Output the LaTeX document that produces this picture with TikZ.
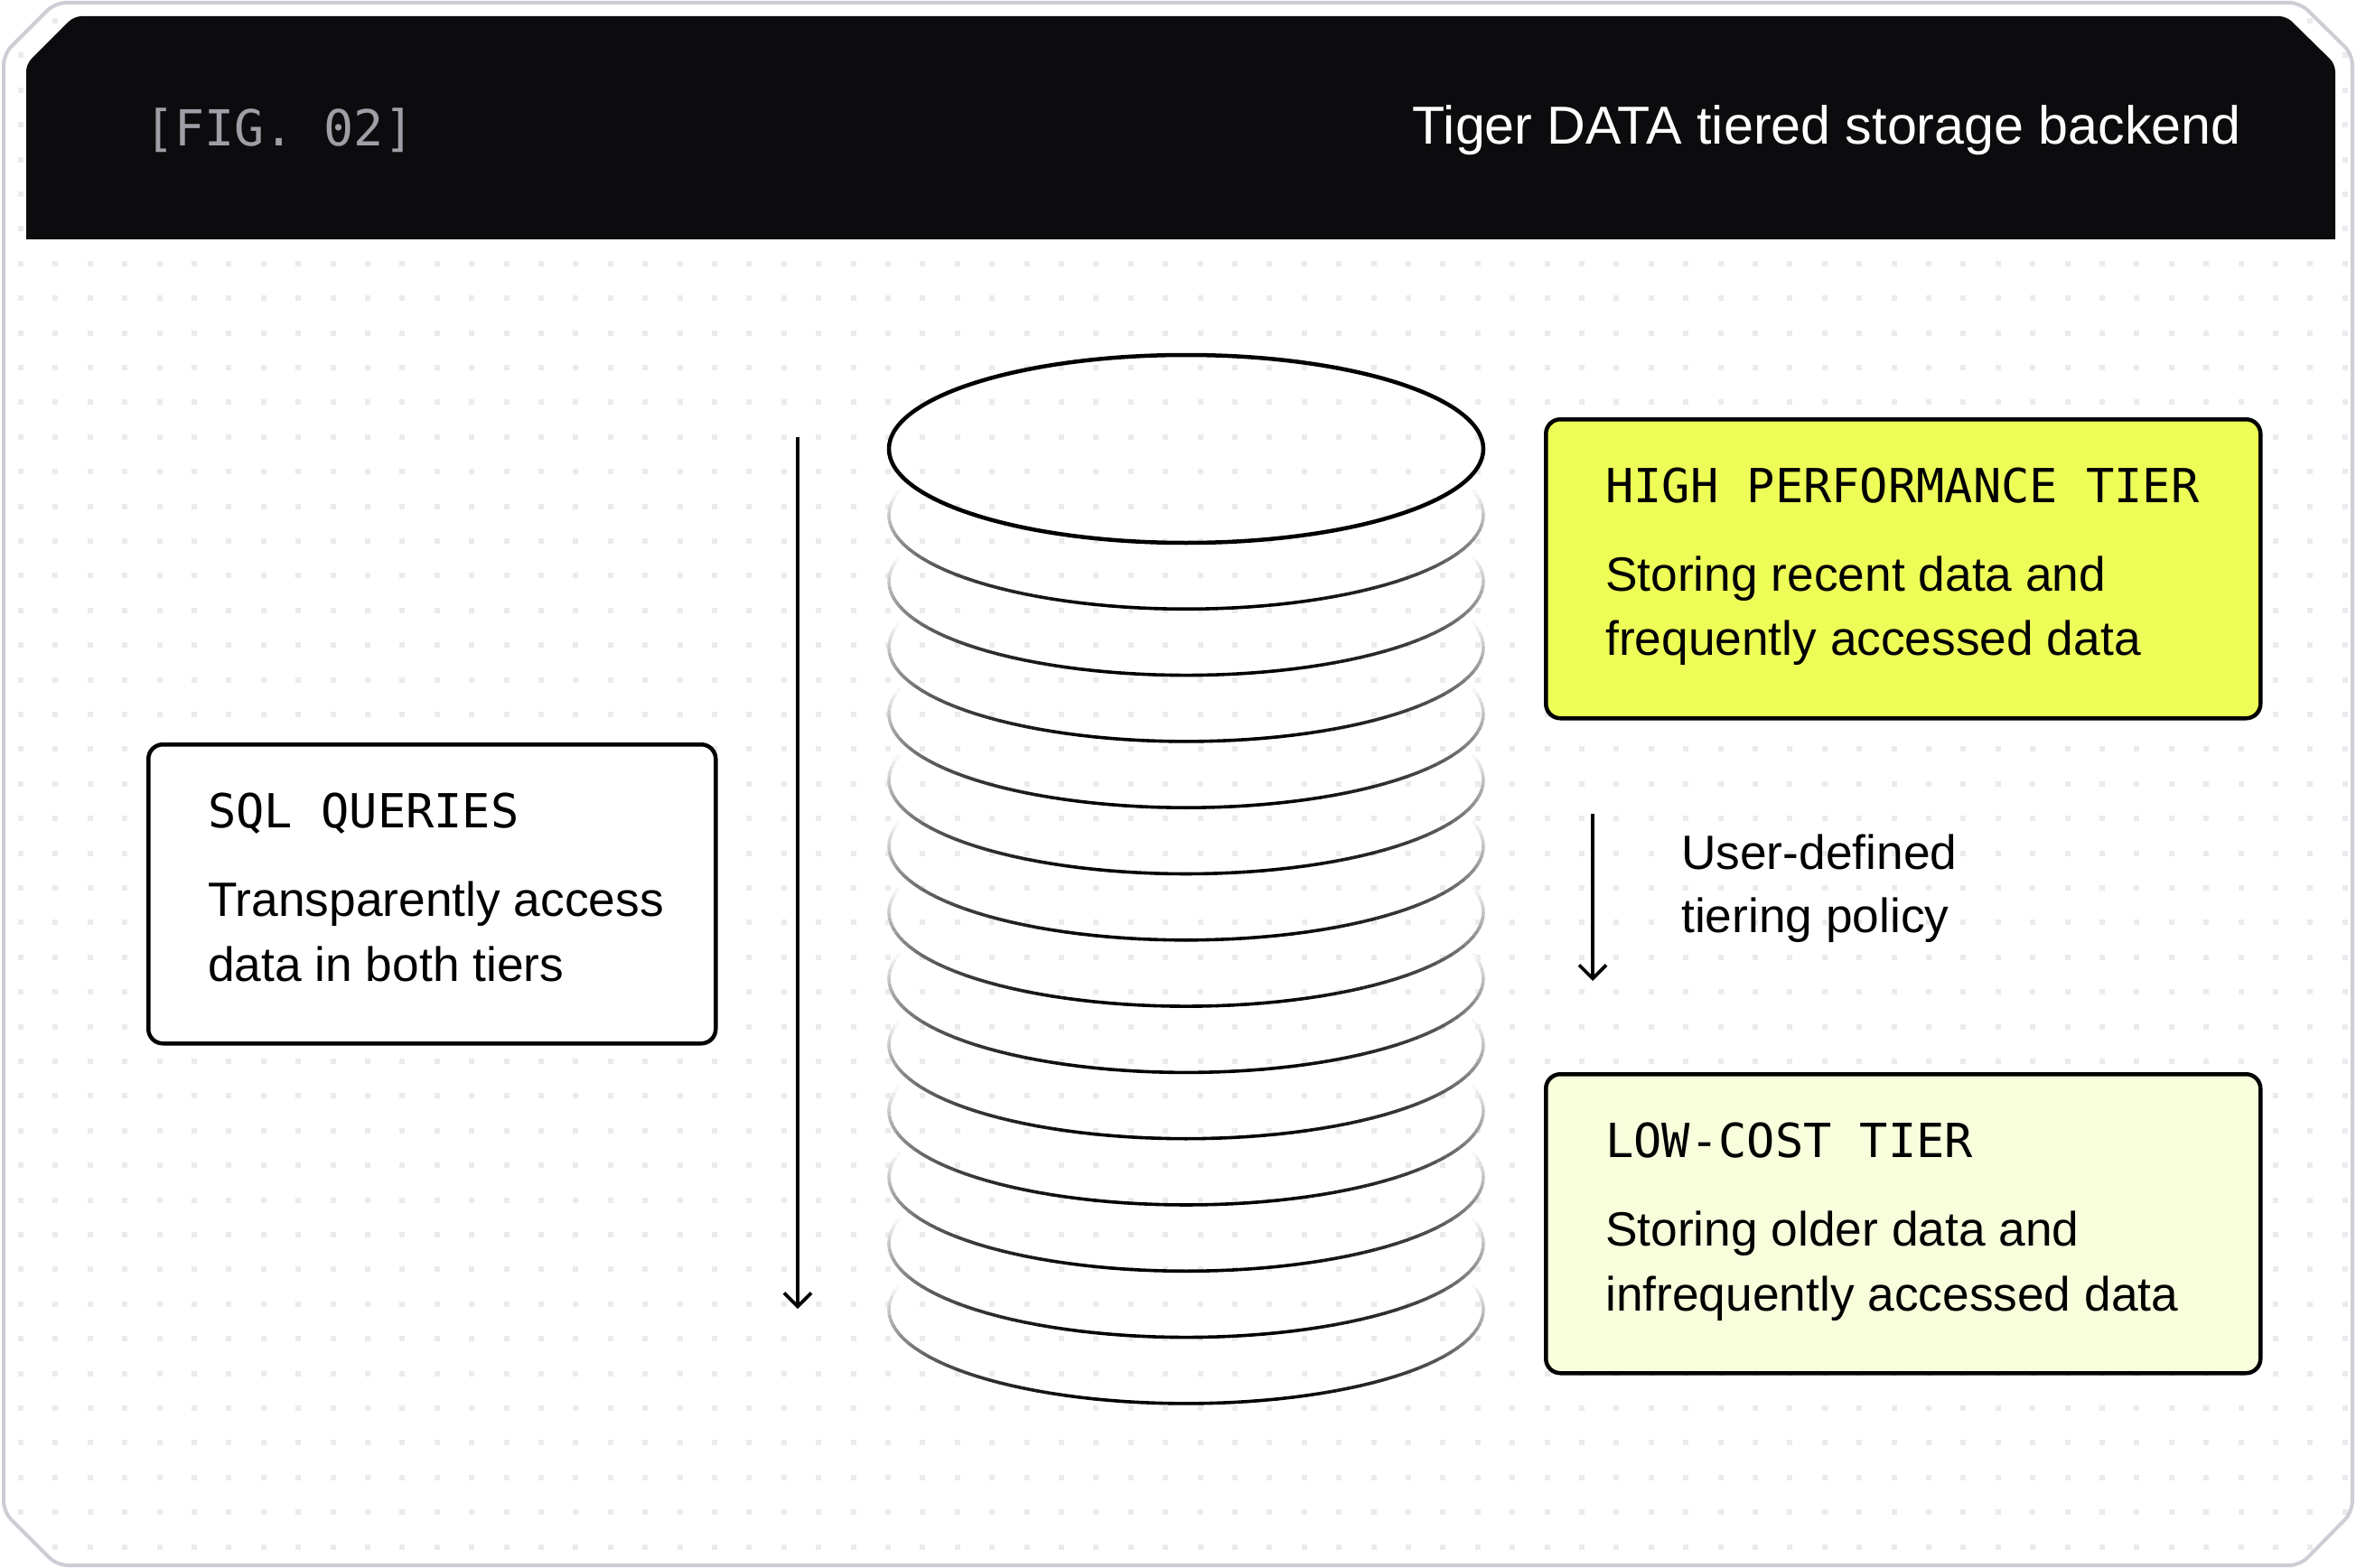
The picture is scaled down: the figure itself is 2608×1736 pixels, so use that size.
\documentclass[tikz,border=0pt]{standalone}
\usepackage{fontspec}
\setmainfont{Liberation Sans}
\setmonofont{DejaVu Sans Mono}
\usetikzlibrary{arrows.meta,positioning,shapes.geometric}

\definecolor{framegray}{HTML}{CDCDD5}
\definecolor{dotgray}{HTML}{EBEBED}
\definecolor{headblack}{HTML}{0C0C0E}
\definecolor{figgray}{HTML}{9E9EA6}
\definecolor{hotfill}{HTML}{EEFC57}
\definecolor{coldfill}{HTML}{F8FEDC}

\tikzset{
    tier/.style={draw=black, line width=4.5pt, rounded corners=16pt, minimum height=331pt, inner sep=0pt, anchor=north west},
    hd/.style={anchor=base west, inner sep=0pt, font=\fontsize{52}{60}\selectfont\ttfamily},
    txt/.style={anchor=base west, inner sep=0pt, font=\fontsize{53.3}{71}\selectfont},
    flow/.style={line width=3.6pt, -{Straight Barb[length=15pt,width=30pt]}},
    ring/.style={line width=3.6pt, line cap=round},
}

\begin{document}
\begin{tikzpicture}[x=1pt,y=-1pt]
    \useasboundingbox (0,0) rectangle (2608,1736);
    \fill[white] (0,0) rectangle (2608,1736);

    % dotted backdrop inside the frame
    \begin{scope}
        \clip[rounded corners=12pt] (4,60) -- (61,3) -- (2546,3) -- (2604,60) -- (2604,1674) -- (2546,1733) -- (63,1733) -- (4,1674) -- cycle;
        \foreach \i in {0,...,67}
            \foreach \j in {0,...,44}
                \fill[dotgray] (20+38.4*\i,20+38.4*\j) rectangle ++(6,6);
    \end{scope}
    \draw[framegray, line width=4pt, rounded corners=12pt] (4,60) -- (61,3) -- (2546,3) -- (2604,60) -- (2604,1674) -- (2546,1733) -- (63,1733) -- (4,1674) -- cycle;

    % header
    \fill[headblack] (29,265) [rounded corners=8pt] -- (29,71) -- (82,18) -- (2531,18) -- (2585,71) [sharp corners] -- (2585,265) -- cycle;
    \node[anchor=base west, inner sep=0pt, text=figgray, font=\fontsize{55}{60}\selectfont\ttfamily] (fig) at (160,162) {[FIG. 02]};
    \node[anchor=base east, inner sep=0pt, text=white, font=\fontsize{59.2}{66}\selectfont] (title) at (2481,160) {Tiger DATA tiered storage backend};

    % storage stack
    \foreach \k in {1,...,13}
        \foreach \a in {-15,-12,...,192}{
            \pgfmathsetmacro\m{max(0,min(100,22+80*sin(\a+1.5)))}
            \draw[ring, black!\m, shift={(1313,497+73.3*\k)}] (\a:329 and 104) -- (\a+3:329 and 104);
        }
    \node[draw, ellipse, line width=4.5pt, minimum width=658pt, minimum height=208pt, inner sep=0pt] (disk) at (1313,497) {};

    % tiers
    \node[tier, fill=white, minimum width=628pt] (sql) at (162,822) {};
    \node[hd] (sqlhd) at ([shift={(68,94)}]sql.north west) {SQL QUERIES};
    \node[txt] (sqltx1) at ([shift={(68,192)}]sql.north west) {Transparently access};
    \node[txt] (sqltx2) at ([shift={(68,264)}]sql.north west) {data in both tiers};

    \node[tier, fill=hotfill, minimum width=791pt] (hot) at (1709,462) {};
    \node[hd] (hothd) at ([shift={(68,94)}]hot.north west) {HIGH PERFORMANCE TIER};
    \node[txt] (hottx1) at ([shift={(68,192)}]hot.north west) {Storing recent data and};
    \node[txt] (hottx2) at ([shift={(68,263)}]hot.north west) {frequently accessed data};

    \node[tier, fill=coldfill, minimum width=791pt] (cold) at (1709,1187) {};
    \node[hd] (coldhd) at ([shift={(68,94)}]cold.north west) {LOW-COST TIER};
    \node[txt] (coldtx1) at ([shift={(68,192)}]cold.north west) {Storing older data and};
    \node[txt] (coldtx2) at ([shift={(68,264)}]cold.north west) {infrequently accessed data};

    % arrows
    \coordinate (q-top) at (883,484);
    \coordinate (q-bot) at (883,1449);
    \draw[flow] (q-top) -- (q-bot);

    \coordinate (p-top) at ([shift={(54,103)}]hot.south west);
    \coordinate (p-bot) at ([shift={(54,-101)}]cold.north west);
    \draw[flow] (p-top) -- (p-bot);
    \node[txt] (pol1) at (1861,962) {User-defined};
    \node[txt] (pol2) at (1861,1032) {tiering policy};
\end{tikzpicture}
\end{document}
